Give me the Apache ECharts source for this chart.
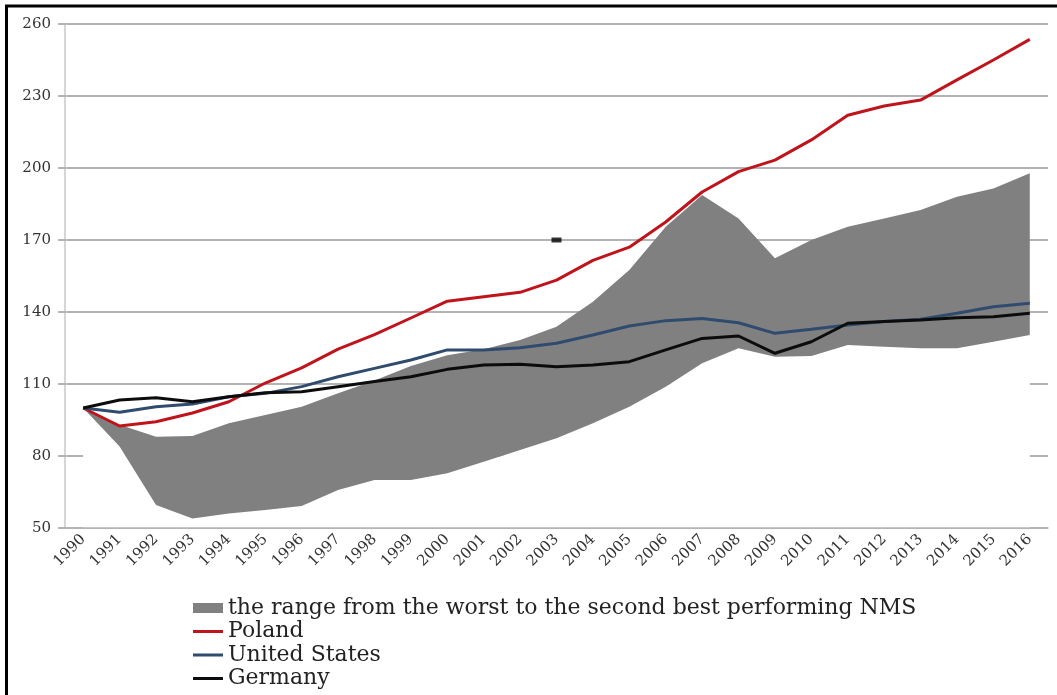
<!DOCTYPE html>
<html>
<head>
<meta charset="utf-8">
<script src="https://cdn.jsdelivr.net/npm/echarts@6/dist/echarts.min.js"></script>
<style>
  html, body { margin: 0; padding: 0; background: #fff; }
  #chart { width: 1057px; height: 695px; }
</style>
</head>
<body>
<div id="chart"></div>
<script>
const years = ['1990', '1991', '1992', '1993', '1994', '1995', '1996', '1997', '1998', '1999',
  '2000', '2001', '2002', '2003', '2004', '2005', '2006', '2007', '2008', '2009',
  '2010', '2011', '2012', '2013', '2014', '2015', '2016']

// range of the NMS group (worst .. second best)
const rangeLow = [100, 84, 59.6, 54, 56, 57.5, 59.2, 65.8, 70, 70, 72.8, 77.6, 82.5, 87.4,
  93.6, 100.5, 108.9, 118.6, 124.9, 121.4, 121.7, 126.3, 125.5, 124.9, 124.9, 127.6, 130.4]
const rangeHigh = [100, 93, 88, 88.3, 93.6, 97.1, 100.5, 106.1, 111.5, 117.5, 122, 124.5, 128.3, 133.9,
  144.3, 157.5, 175.5, 188.7, 179, 162.4, 170, 175.5, 179, 182.5, 188, 191.5, 197.8]

const poland = [100, 92.5, 94.3, 97.9, 102.6, 110.4, 116.7, 124.5, 130.6, 137.5, 144.5, 146.4, 148.2, 153.3,
  161.5, 167, 177.5, 190, 198.5, 203.3, 211.7, 222, 225.8, 228.3, 236.7, 245, 253.6]
const unitedStates = [100, 98.2, 100.5, 101.7, 104.7, 106.1, 108.9, 113, 116.5, 120, 124.2, 124.2, 125.1, 127,
  130.4, 134.2, 136.4, 137.3, 135.5, 131.1, 132.8, 134.6, 136, 137, 139.5, 142.2, 143.6]
const germany = [100, 103.3, 104.3, 102.6, 104.7, 106.4, 106.8, 108.9, 111, 113, 116.1, 117.9, 118.2, 117.2,
  117.9, 119.3, 124.2, 129, 130, 122.8, 127.6, 135.3, 136, 136.7, 137.6, 138, 139.5]

// stray mark in the original figure
const strayMark = [['2003', 170]]

const rangeName = 'the range from the worst to the second best performing NMS'
const serif = "'DejaVu Serif', serif"
// thin line legend icon inside a 30x10 box
const lineIcon = 'path://M0,0h0.1v0.1h-0.1z M0,3.5h30v3h-30z M29.9,9.9h0.1v0.1h-0.1z'

const lineSeries = (name, data, color) => ({
  name,
  type: 'line',
  data,
  color,
  symbol: 'none',
  z: 4,
  lineStyle: { width: 3, color }
})

// one legend per row so the stacked list keeps its spacing
const legendRow = (name, icon, top) => ({
  orient: 'vertical',
  left: 193,
  top,
  padding: 0,
  itemWidth: 30,
  itemHeight: 10,
  textStyle: { fontFamily: serif, fontSize: 22, lineHeight: 22, color: '#222' },
  data: [{ name, icon }]
})

const chart = echarts.init(document.getElementById('chart'))
chart.setOption({
  animation: false,
  backgroundColor: '#fff',
  grid: { left: 65, right: 9, top: 24, bottom: 167 },
  legend: [
    legendRow(rangeName, 'rect', 597),
    legendRow('Poland', lineIcon, 620.5),
    legendRow('United States', lineIcon, 644),
    legendRow('Germany', lineIcon, 667.5)
  ],
  xAxis: {
    type: 'category',
    data: years,
    z: 5,
    axisLine: { lineStyle: { color: '#b5b5b5', width: 1.5 } },
    axisTick: { length: 5, lineStyle: { color: '#b5b5b5' } },
    axisLabel: {
      rotate: 45,
      margin: 9,
      fontFamily: serif,
      fontSize: 15,
      color: '#333'
    }
  },
  yAxis: {
    type: 'value',
    min: 50,
    max: 260,
    interval: 30,
    axisLine: { show: true, lineStyle: { color: '#c8c8c8', width: 1.5 } },
    axisTick: { show: true, length: 7, lineStyle: { color: '#9a9a9a', width: 1.5 } },
    splitLine: { lineStyle: { color: '#9a9a9a', width: 1.5 } },
    axisLabel: { fontFamily: serif, fontSize: 15, color: '#333', margin: 14 }
  },
  graphic: [
    { type: 'line', shape: { x1: 6.5, y1: 6, x2: 6.5, y2: 700 }, style: { stroke: '#000', lineWidth: 3 } },
    { type: 'line', shape: { x1: 5, y1: 6, x2: 1060, y2: 6 }, style: { stroke: '#000', lineWidth: 3 } }
  ],
  series: [
    {
      name: 'base',
      type: 'line',
      stack: 'band',
      data: rangeLow,
      symbol: 'none',
      silent: true,
      lineStyle: { width: 0 },
      areaStyle: { color: '#fff', opacity: 1 }
    },
    {
      name: rangeName,
      type: 'line',
      stack: 'band',
      data: rangeHigh.map((v, i) => +(v - rangeLow[i]).toFixed(2)),
      color: '#808080',
      symbol: 'none',
      lineStyle: { width: 0 },
      areaStyle: { color: '#808080', opacity: 1 }
    },
    lineSeries('Poland', poland, '#c0141c'),
    lineSeries('United States', unitedStates, '#2f4b6e'),
    lineSeries('Germany', germany, '#0c0c0c'),
    {
      name: 'mark',
      type: 'scatter',
      data: strayMark,
      symbol: 'rect',
      symbolSize: [10, 5],
      itemStyle: { color: '#000' },
      silent: true
    }
  ]
})
</script>
</body>
</html>
